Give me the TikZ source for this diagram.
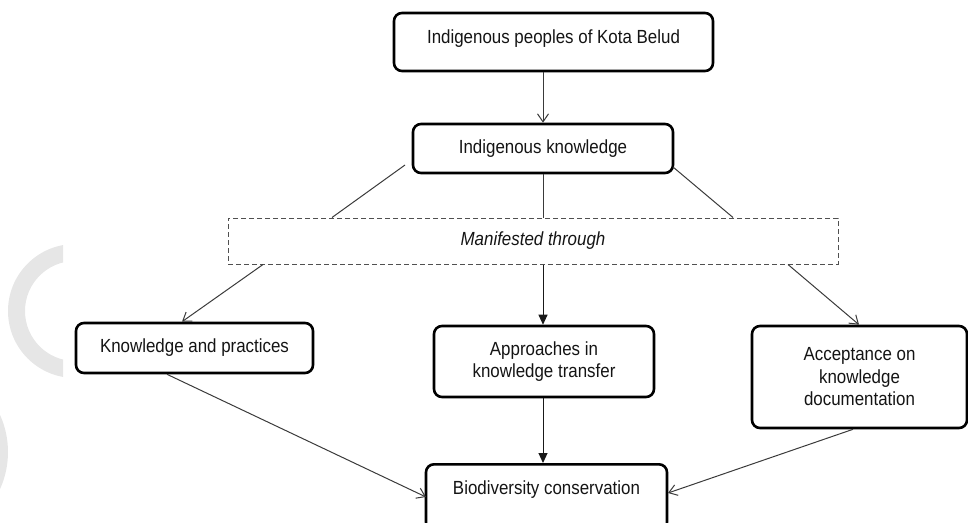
\documentclass[tikz,border=0pt]{standalone}
\usepackage{fontspec}
\setmainfont{Liberation Sans}[FakeStretch=0.89]
\usetikzlibrary{arrows.meta,positioning}
\definecolor{wm}{HTML}{E6E6E6}
\definecolor{conn}{HTML}{3A3A3A}
\definecolor{dashc}{HTML}{505050}
\begin{document}
\begin{tikzpicture}[x=1pt,y=-1pt,
  every node/.style={font=\fontsize{19}{22.5}\selectfont, text=black!92},
  mainbox/.style={draw=black, line width=2.6pt, rounded corners=8pt, align=center, inner sep=0pt},
  dashbox/.style={draw=dashc, line width=1pt, dash pattern=on 5pt off 3pt, inner sep=0pt},
  conline/.style={draw=conn, line width=1pt},
  openarr/.style={conline, -{Straight Barb[length=8pt,width=11pt,line width=1pt]}},
  fillarr/.style={conline, draw=black!90, -{Triangle[length=10pt,width=9pt]}}
]
\useasboundingbox (0,0) rectangle (968,522);
% watermark arcs
\begin{scope}
  \clip (0,0) rectangle (63,522);
  \fill[wm, even odd rule] (75,311) circle[radius=67] (75,311) circle[radius=50];
\end{scope}
\begin{scope}
  \clip (0,0) rectangle (968,522);
  \fill[wm] (-82,452) circle[radius=90];
\end{scope}
% nodes
\node[mainbox, minimum width=319pt, minimum height=58pt, text height=13.6pt, text depth=11.6pt] (top) at (553.5,42) {Indigenous peoples of Kota Belud};
\node[mainbox, minimum width=260pt, minimum height=49pt] (ik) at (543,148.5) {Indigenous knowledge};
\node[dashbox, minimum width=610pt, minimum height=46pt, font=\fontsize{19}{22.5}\selectfont\itshape] (man) at (533,241) {Manifested through};
\node[mainbox, minimum width=237pt, minimum height=50pt] (kp) at (194.5,348) {Knowledge and practices};
\node[mainbox, minimum width=220pt, minimum height=71pt] (ap) at (544,361.5) {Approaches in\\knowledge transfer};
\node[mainbox, minimum width=215pt, minimum height=102pt] (ac) at (859.5,377) {Acceptance on\\knowledge\\documentation};
\node[mainbox, minimum width=241pt, text height=30pt, text depth=36pt, anchor=north] (bio) at (546.5,463) {Biodiversity conservation};
% connectors
\draw[openarr] (top.south -| ik.north) -- (ik.north);
\coordinate (ikl) at (405,165);
\coordinate (ikr) at (673,167);
\draw[conline] (ikl) -- (man.north -| 332,0);
\draw[conline] (ikr) -- (man.north -| 733,0);
\draw[conline] (ik.south) -- (man.north -| ik.south);
\draw[openarr] (man.south -| 263,0) -- (kp.north -| 182,0);
\draw[fillarr] (man.south -| 543,0) -- (ap.north -| 543,0);
\draw[openarr] (man.south -| 788,0) -- (ac.north -| 859,0);
\draw[openarr] (kp.south -| 167,0) -- (426,497);
\draw[fillarr] (ap.south -| 543,0) -- (bio.north -| 543,0);
\draw[openarr] (ac.south -| 853,0) -- (668,493);
\end{tikzpicture}
\end{document}
